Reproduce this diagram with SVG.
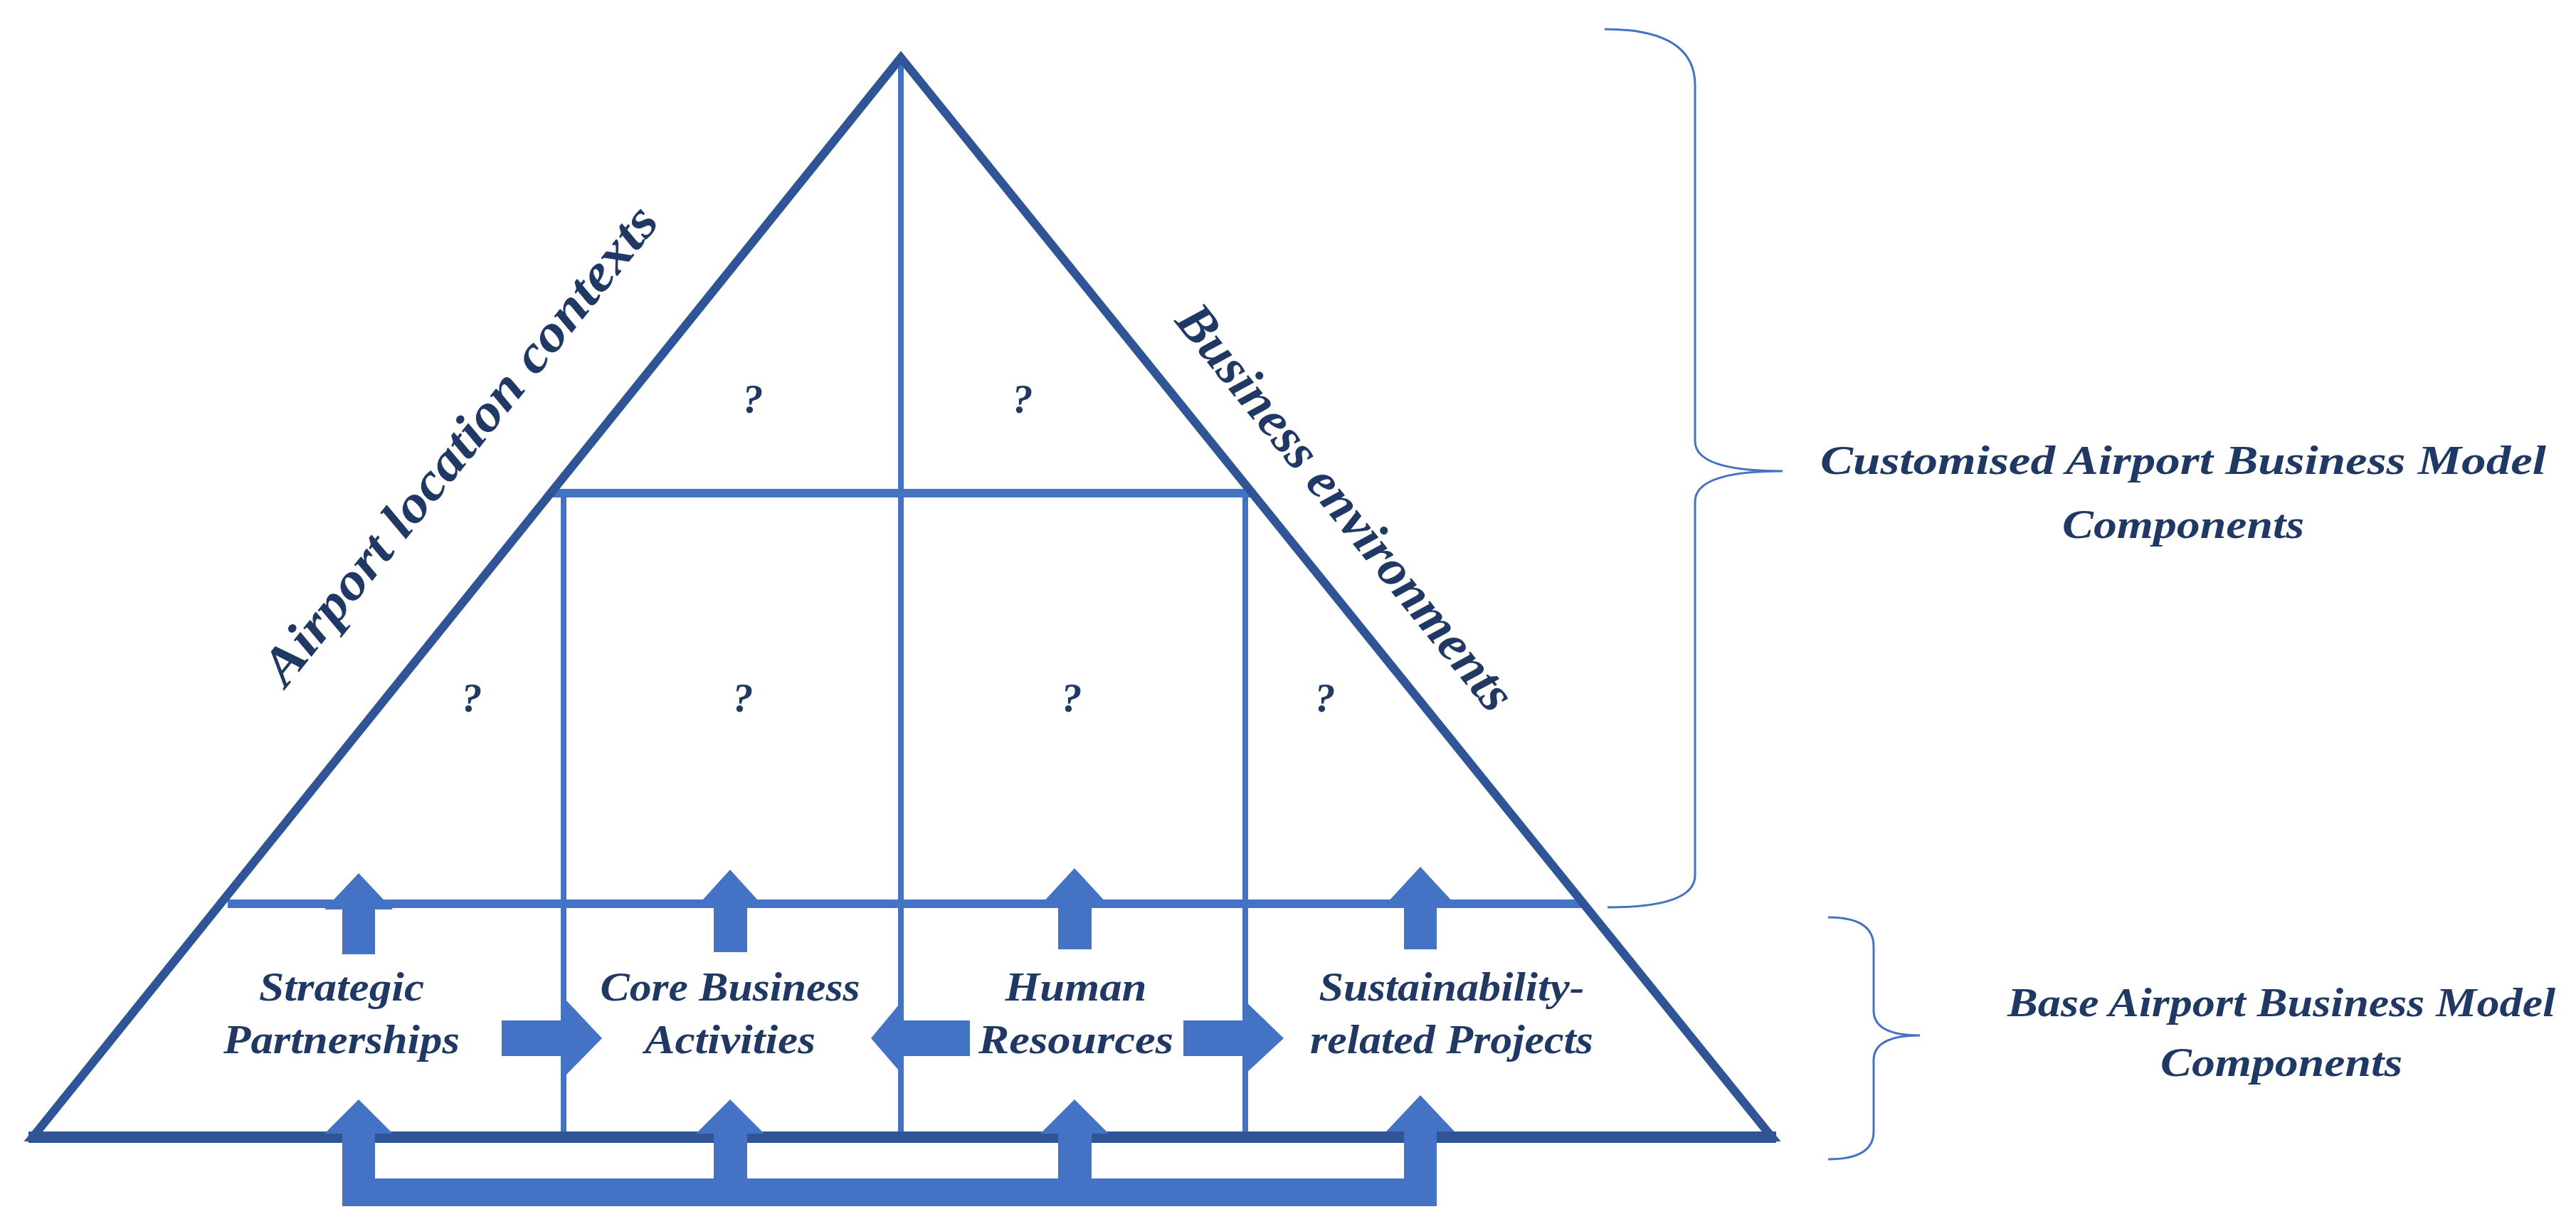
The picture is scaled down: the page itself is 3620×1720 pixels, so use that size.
<svg xmlns="http://www.w3.org/2000/svg" width="3620" height="1720" viewBox="0 0 3620 1720">
<style>
.t{font-family:"Liberation Serif",serif;font-weight:bold;font-style:italic;fill:#1F3864;text-anchor:middle}
.lb{stroke:#4472C4;fill:none}
.ar{fill:#4472C4}
.br{stroke:#4472C4;stroke-width:3;fill:none}
</style>
<rect width="3620" height="1720" fill="#fff"/>
<g id="frame">
<line class="lb" x1="320" y1="1270" x2="2226" y2="1270" stroke-width="12"/>
<line class="lb" x1="774" y1="693" x2="1758" y2="693" stroke-width="12"/>
<line class="lb" x1="792" y1="693" x2="792" y2="1598" stroke-width="8"/>
<line class="lb" x1="1266" y1="81" x2="1266" y2="1598" stroke-width="8"/>
<line class="lb" x1="1750" y1="693" x2="1750" y2="1598" stroke-width="8"/>
<polygon points="46,1598 1266,81 2490,1598" fill="none" stroke="#2F5597" stroke-width="12" stroke-linejoin="miter"/>
<line x1="40" y1="1598" x2="2496" y2="1598" stroke="#2F5597" stroke-width="16"/>
</g>
<g id="connectors">
<polygon class="ar" points="481,1341 481,1278 456,1278 504,1227 552,1278 527,1278 527,1341"/>
<polygon class="ar" points="1003,1338 1003,1275 978,1275 1026,1222 1074,1275 1050,1275 1050,1338"/>
<polygon class="ar" points="1487,1334 1487,1272 1462,1272 1510,1220 1558,1272 1534,1272 1534,1334"/>
<polygon class="ar" points="1973,1334 1973,1270 1948,1270 1996,1218 2044,1270 2019,1270 2019,1334"/>
<polygon class="ar" points="705,1434 796,1434 796,1406 846,1459 796,1510 796,1484 705,1484"/>
<polygon class="ar" points="1363,1434 1268,1434 1268,1406 1224,1459 1268,1510 1268,1484 1363,1484"/>
<polygon class="ar" points="1663,1434 1749,1434 1749,1406 1804,1459 1749,1510 1749,1484 1663,1484"/>
<polygon class="ar" points="481,1695 481,1593 456,1593 504,1545 552,1593 527,1593 527,1656"/>
<polygon class="ar" points="1003,1695 1003,1593 978,1593 1026,1545 1074,1593 1050,1593 1050,1695"/>
<polygon class="ar" points="1487,1695 1487,1593 1462,1593 1510,1545 1558,1593 1534,1593 1534,1695"/>
<polygon class="ar" points="1973,1686 1973,1590 1948,1590 1996,1539 2044,1590 2019,1590 2019,1695"/>
<rect class="ar" x="481" y="1656" width="1538" height="39"/>
</g>
<g id="labels">
<text class="t" font-size="58" x="480" y="1406" textLength="232" lengthAdjust="spacingAndGlyphs">Strategic</text>
<text class="t" font-size="58" x="480" y="1480" textLength="332" lengthAdjust="spacingAndGlyphs">Partnerships</text>
<text class="t" font-size="58" x="1026" y="1406" textLength="365" lengthAdjust="spacingAndGlyphs">Core Business</text>
<text class="t" font-size="58" x="1026" y="1480" textLength="240" lengthAdjust="spacingAndGlyphs">Activities</text>
<text class="t" font-size="58" x="1512" y="1406" textLength="199" lengthAdjust="spacingAndGlyphs">Human</text>
<text class="t" font-size="58" x="1512" y="1480" textLength="274" lengthAdjust="spacingAndGlyphs">Resources</text>
<text class="t" font-size="58" x="2040" y="1406" textLength="373" lengthAdjust="spacingAndGlyphs">Sustainability-</text>
<text class="t" font-size="58" x="2040" y="1480" textLength="398" lengthAdjust="spacingAndGlyphs">related Projects</text>
<text class="t" font-size="58" x="1058" y="580">?</text>
<text class="t" font-size="58" x="1437" y="580">?</text>
<text class="t" font-size="58" x="663" y="1000">?</text>
<text class="t" font-size="58" x="1044" y="1000">?</text>
<text class="t" font-size="58" x="1506" y="1000">?</text>
<text class="t" font-size="58" x="1862" y="1000">?</text>
<text class="t" font-size="74" textLength="840" lengthAdjust="spacingAndGlyphs" transform="translate(665,640) rotate(-51.2)">Airport location contexts</text>
<text class="t" font-size="74" textLength="710" lengthAdjust="spacingAndGlyphs" transform="translate(1872,728) rotate(51.2)">Business environments</text>
</g>
<g id="braces">
<path class="br" d="M2255,41 Q2382,41 2382,120 L2382,620 Q2382,662 2505,662 Q2382,662 2382,705 L2382,1230 Q2382,1275 2259,1275"/>
<path class="br" d="M2569,1289 Q2633,1289 2633,1330 L2633,1420 Q2633,1455 2698,1455 Q2633,1455 2633,1490 L2633,1590 Q2633,1629 2569,1629"/>
<text class="t" font-size="56" x="3068" y="666" textLength="1020" lengthAdjust="spacingAndGlyphs">Customised Airport Business Model</text>
<text class="t" font-size="56" x="3068" y="756" textLength="340" lengthAdjust="spacingAndGlyphs">Components</text>
<text class="t" font-size="56" x="3206" y="1428" textLength="770" lengthAdjust="spacingAndGlyphs">Base Airport Business Model</text>
<text class="t" font-size="56" x="3206" y="1512" textLength="340" lengthAdjust="spacingAndGlyphs">Components</text>
</g>
</svg>
